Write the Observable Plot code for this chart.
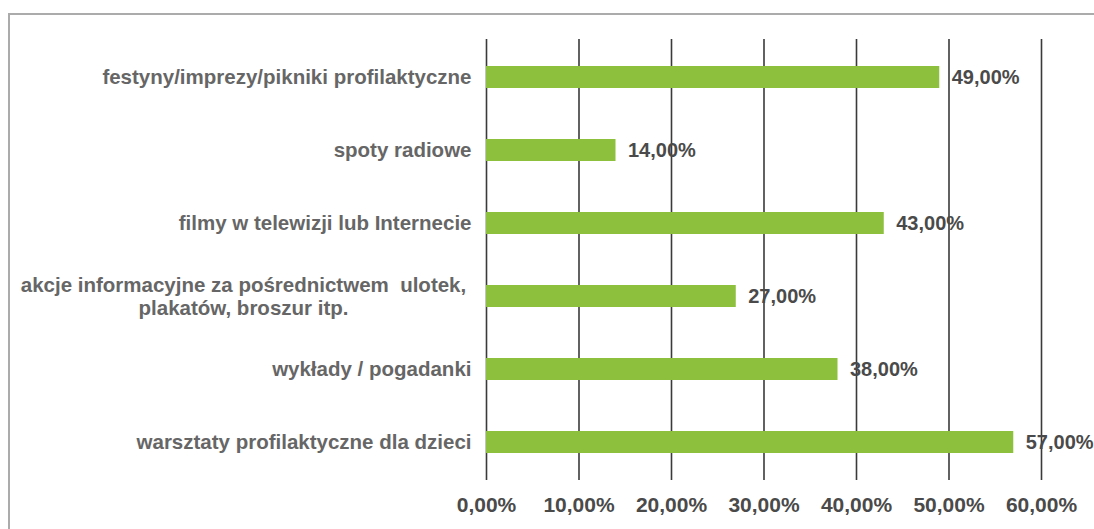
<!DOCTYPE html>
<html><head><meta charset="utf-8">
<script src="https://cdn.jsdelivr.net/npm/d3@7"></script>
<script src="https://cdn.jsdelivr.net/npm/@observablehq/plot@0.6"></script>
<style>
html,body{margin:0;padding:0;background:#fff;overflow:hidden;width:1094px;height:529px;}
#frame{position:absolute;left:8px;top:13px;width:1200px;height:600px;border:2px solid #ababab;box-sizing:border-box;}
#chart{position:absolute;left:0;top:0;}
</style></head><body>
<div id="frame"></div><div id="chart"></div>
<script>
const categories = [
  "festyny/imprezy/pikniki profilaktyczne",
  "spoty radiowe",
  "filmy w telewizji lub Internecie",
  "akcje informacyjne za pośrednictwem  ulotek,\nplakatów, broszur itp.",
  "wykłady / pogadanki",
  "warsztaty profilaktyczne dla dzieci"
];
const values = [0.49, 0.14, 0.43, 0.27, 0.38, 0.57];
const xTicks = [0, 0.1, 0.2, 0.3, 0.4, 0.5, 0.6];

const data = categories.map((c, i) => ({category: c, value: values[i]}));
const fmt = v => (v * 100).toFixed(2).replace(".", ",") + "%";
const single = data.filter(d => !d.category.includes("\n"));
const multi = data.filter(d => d.category.includes("\n"));

const chart = Plot.plot({
  width: 1094,
  height: 529,
  marginLeft: 486,
  marginRight: 53,
  marginTop: 39,
  marginBottom: 49,
  style: {fontFamily: "'Liberation Sans', Arial, sans-serif", fontWeight: "bold", background: "transparent"},
  x: {domain: [0, 0.6], axis: null},
  y: {domain: categories, paddingInner: 0.7, paddingOuter: 0.35, axis: null},
  marks: [
    Plot.ruleX(xTicks, {stroke: "#3a3a3a", strokeWidth: 1.6}),
    Plot.barX(data, {x: "value", y: "category", fill: "#8dc03c"}),
    Plot.text(data, {x: "value", y: "category", text: d => fmt(d.value), textAnchor: "start", dx: 12, fontSize: 20, fill: "#4a4a4a"}),
    Plot.text(single, {x: 0, y: "category", text: "category", textAnchor: "end", dx: -15, fontSize: 20.5, fill: "#666"}),
    Plot.text(multi, {x: 0, y: "category", text: "category", textAnchor: "middle", dx: -243, fontSize: 20.5, lineHeight: 1.1, fill: "#666"}),
    Plot.axisX(xTicks, {anchor: "bottom", tickSize: 0, tickPadding: 17, tickFormat: fmt, fontSize: 21, fill: "#4a4a4a", label: null})
  ]
});
document.getElementById("chart").appendChild(chart);
</script>
</body></html>
